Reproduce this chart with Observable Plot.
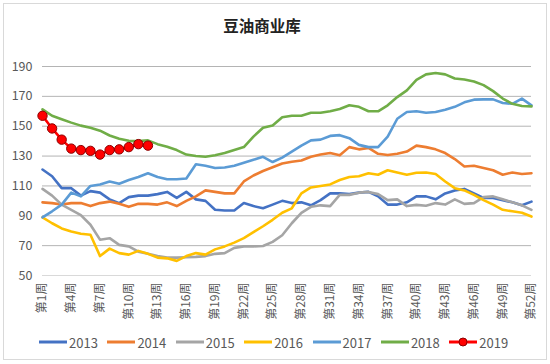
<!DOCTYPE html>
<html><head><meta charset="utf-8">
<script src="https://cdn.jsdelivr.net/npm/d3@7"></script>
<script src="https://cdn.jsdelivr.net/npm/@observablehq/plot@0.6"></script>
<style>
body{margin:0;background:#fff;}
#wrap{position:relative;width:550px;height:364px;overflow:hidden;font-family:"Noto Sans CJK SC","Noto Sans",sans-serif;background:#fff;}
#frame{position:absolute;left:3px;top:3px;width:544px;height:357px;border:1px solid #d9d9d9;box-sizing:border-box;}
#title{position:absolute;left:0;top:14px;width:524px;text-align:center;font-size:15.5px;font-weight:bold;line-height:22px;color:#222;}
#chart{position:absolute;left:0;top:40px;}
#legend{position:absolute;left:39px;top:332px;display:flex;align-items:center;height:20px;}
.item{display:flex;align-items:center;margin-right:9.5px;font-size:13px;color:#595959;}
.item svg{margin-right:2px;}
</style></head>
<body>
<div id="wrap">
  <div id="frame"></div>
  <div id="title">豆油商业库</div>
  <div id="chart"></div>
  <div id="legend"></div>
</div>
<script>
const title = "豆油商业库";
const years = ["2013","2014","2015","2016","2017","2018","2019"];
const colors = ["#4472C4","#ED7D31","#A5A5A5","#FFC000","#5B9BD5","#70AD47","#FF0000"];
const xTicks = [1,4,7,10,13,16,19,22,25,28,31,34,37,40,43,46,49,52];
const yTicks = [50,70,90,110,130,150,170,190];

const y2013 = [121,116.5,108.5,108.5,103.5,106.5,105.5,101,98.5,102.5,103.5,103.5,104.5,106,102,106,101,100,94,93.5,93.5,98.5,96.5,95,97.5,100,98.5,99,97,100.5,105,105,104.5,105.5,106,103,97.5,97.5,99,103,103,101,105,107,108,105,102,102,100.5,99,97,99.5];
const y2014 = [99,98.5,97.5,98.5,98.5,96.5,98.5,99.5,98,96,98,98,97.5,99,96.5,100,103,107,106,105,105,113,117,120,122.5,125,126.2,127,129.5,131,132,130.5,136,134.5,135.5,131.5,130.7,131.5,133,137,136,134.5,132,128,123,123.5,122,120.5,117.5,119,118,118.5];
const y2015 = [108,103.5,97.5,94,90.5,84,74,75,70.5,69.5,66,64.5,63,62,62,62.2,62.5,63,64.5,65,68.5,69.5,69.5,69.8,72.5,77,85,92,96,97,96.5,104,104,105.5,106,104.5,100.5,101,96.5,97.3,96.7,98.5,97.5,101,98,98.5,102.5,103,101,99,97,94];
const y2016 = [89,85,81.5,79.5,78,77.3,63,68,65,64,66.5,64.5,62,61.5,59.8,63,65,64,67.5,69.5,72,75,79,83,87.3,92,95,105,109,110,111,114,116,116.5,118.5,117.5,120.5,119,117.5,118.8,119,118,113,108.5,107,104,100.5,97.5,94,93,92,89.5];
const y2017 = [89,93,97.5,105.5,103,110,111,113,111.5,114,116,118.5,116,114.5,114.5,115,124.5,123.5,122,122.3,123.5,125.5,127.5,129.5,126,129,133,137,140.5,141,143.5,144,142,137.5,136,136,143,155,159.5,160,159,159.5,161,163,166,167.8,168,168,165.5,165,168.5,164];
const y2018 = [161.3,157,154.7,152.4,150.4,149,147,143.8,141.6,140.2,140,140.5,138,136.2,134,131,130,129.5,130.5,132,134,136,143,149,150.5,156,157,157,159,159,160,161.5,164,163,160,160,164,169.5,174,181,184.7,185.6,184.7,182,181.3,180,177.5,173.5,168.5,165,163.5,163.3];
const y2019 = [157,148.5,141,135,134,133.5,131,134,134.5,136,138,137];

const seriesValues = [y2013,y2014,y2015,y2016,y2017,y2018,y2019];
const series = years.map((yr,i)=>({year:yr,color:colors[i],data:seriesValues[i].map((v,j)=>({week:j+1,value:v}))}));

const marks = [
  Plot.ruleY(yTicks.filter(d=>d>50),{stroke:"#b4b4b4",strokeWidth:1}),
  Plot.ruleY([50],{stroke:"#d9d9d9",strokeWidth:1}),
  Plot.axisY({ticks:yTicks,tickSize:0,tickPadding:10,fontSize:12.5,label:null}),
  Plot.axisX({ticks:xTicks,tickFormat:d=>`第${d}周`,tickRotate:-90,tickSize:0,tickPadding:7,fontSize:12,label:null})
];
series.forEach(s=>{
  marks.push(Plot.line(s.data,{x:"week",y:"value",stroke:s.color,strokeWidth:2.6,strokeLinejoin:"round"}));
});
const last = series[series.length-1];
marks.push(Plot.dot(last.data,{x:"week",y:"value",r:4.7,fill:"#FF0000",stroke:"#8B0000",strokeWidth:1}));

const chart = Plot.plot({
  width:550,height:285,
  marginLeft:42,marginRight:19,marginTop:26,marginBottom:50,
  style:{fontFamily:'"Noto Sans CJK SC","Noto Sans",sans-serif',color:"#595959",background:"transparent"},
  x:{type:"linear",domain:[1,52]},
  y:{domain:[50,190]},
  marks
});
document.getElementById("chart").appendChild(chart);

const legend = d3.select("#legend");
series.forEach(s=>{
  const item = legend.append("div").attr("class","item");
  const sv = item.append("svg").attr("width",28).attr("height",12);
  sv.append("line").attr("x1",0).attr("x2",28).attr("y1",6).attr("y2",6).attr("stroke",s.color).attr("stroke-width",3);
  if (s.year==="2019") sv.append("circle").attr("cx",14).attr("cy",6).attr("r",4).attr("fill","#FF0000").attr("stroke","#8B0000");
  item.append("span").text(s.year);
});
</script>
</body></html>
